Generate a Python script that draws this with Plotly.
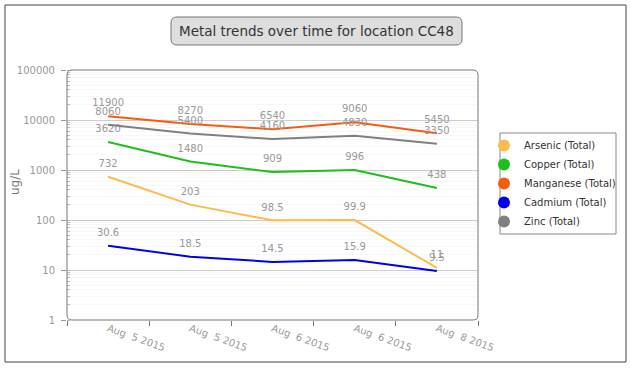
import plotly.graph_objects as go

categories = ["Aug  5 2015", "Aug  5 2015", "Aug  6 2015", "Aug  6 2015", "Aug  8 2015"]
series_names = ["Arsenic (Total)", "Copper (Total)", "Manganese (Total)", "Cadmium (Total)", "Zinc (Total)"]
arsenic = [732, 203, 98.5, 99.9, 11]
copper = [3620, 1480, 909, 996, 438]
manganese = [11900, 8270, 6540, 9060, 5450]
cadmium = [30.6, 18.5, 14.5, 15.9, 9.5]
zinc = [8060, 5400, 4160, 4830, 3350]
y_tick_vals = [1, 10, 100, 1000, 10000, 100000]
y_tick_text = ["1", "10", "100", "1000", "10000", "100000"]

colors = ["#FDBA4F", "#1DBF1D", "#F65B12", "#0000E6", "#808080"]
all_series = [arsenic, copper, manganese, cadmium, zinc]

W, H = 631, 368
L, R, T, B = 67, 478, 70, 320
FONT = "DejaVu Sans"

def px(x):
    return (x - L) / (R - L)

def py(y):
    return (B - y) / (B - T)

def rrect(x0, y0, x1, y1, r):
    rx = r / (R - L)
    ry = r / (B - T)
    X0, X1 = px(x0), px(x1)
    Y0, Y1 = py(y0), py(y1)
    return (f"M{X0+rx},{Y0} L{X1-rx},{Y0} Q{X1},{Y0} {X1},{Y0-ry} "
            f"L{X1},{Y1+ry} Q{X1},{Y1} {X1-rx},{Y1} "
            f"L{X0+rx},{Y1} Q{X0},{Y1} {X0},{Y1+ry} "
            f"L{X0},{Y0-ry} Q{X0},{Y0} {X0+rx},{Y0} Z")

xs = list(range(len(categories)))

fig = go.Figure()
for name, vals, c in zip(series_names, all_series, colors):
    fig.add_trace(go.Scatter(
        x=xs, y=vals, name=name, mode="lines+markers+text",
        line=dict(color=c, width=2),
        marker=dict(size=10, color="rgba(0,0,0,0)"),
        text=[f"{v:g}" for v in vals],
        textposition="top center",
        textfont=dict(family=FONT, size=10, color="#999999"),
        hoverinfo="skip", showlegend=False,
    ))
for name, c in zip(series_names, colors):
    fig.add_trace(go.Scatter(x=[None], y=[None], name=name, mode="markers",
                             marker=dict(color=c, size=8), showlegend=True))

shapes = [
    dict(type="rect", xref="paper", yref="paper",
         x0=px(5), x1=px(626), y0=py(5), y1=py(362),
         line=dict(color="#444444", width=1), fillcolor="rgba(0,0,0,0)", layer="below"),
    dict(type="path", xref="paper", yref="paper", path=rrect(L, T, R, B, 5),
         line=dict(color="#777777", width=1), layer="above"),
    dict(type="path", xref="paper", yref="paper", path=rrect(171, 17, 462, 45, 6),
         line=dict(color="#777777", width=1), fillcolor="#DEDEDE", layer="below"),
    dict(type="rect", xref="paper", yref="paper",
         x0=px(500), x1=px(616), y0=py(133), y1=py(234),
         line=dict(color="#888888", width=1), fillcolor="white", layer="below"),
]

fig.update_layout(
    width=W, height=H,
    margin=dict(l=L, r=W - R, t=T, b=H - B, autoexpand=False),
    paper_bgcolor="white", plot_bgcolor="white",
    font=dict(family=FONT, color="#333333"),
    shapes=shapes,
    annotations=[
        dict(text="Metal trends over time for location CC48", xref="paper", yref="paper",
             x=px(316.5), y=py(31), xanchor="center", yanchor="middle", showarrow=False,
             font=dict(family=FONT, size=13.5, color="#333333")),
        dict(text="ug/L", xref="paper", yref="paper", x=px(15), y=py(182), textangle=-90,
             xanchor="center", yanchor="middle", showarrow=False,
             font=dict(family=FONT, size=12, color="#777777")),
    ],
    showlegend=True,
    legend=dict(x=px(484), y=py(131), xanchor="left", yanchor="top",
                bgcolor="rgba(0,0,0,0)", borderwidth=0,
                font=dict(family=FONT, size=10, color="#333333"),
                itemsizing="constant", itemwidth=30, tracegroupgap=0),
    xaxis=dict(range=[-0.5, 4.5], tickmode="array", tickvals=xs, ticktext=categories,
               tickangle=20, ticks="", showgrid=False, zeroline=False, automargin=False,
               showline=False, tickfont=dict(family=FONT, size=10, color="#999999"),
               minor=dict(tickmode="array", tickvals=[-0.5, 0.5, 1.5, 2.5, 3.5, 4.5],
                          ticks="outside", ticklen=5, tickcolor="#777777", showgrid=False)),
    yaxis=dict(type="log", range=[0, 5], tickmode="array", tickvals=y_tick_vals,
               ticktext=y_tick_text, ticks="outside", ticklen=5, tickcolor="#999999",
               ticklabelstandoff=4,
               showgrid=True, gridcolor="#CCCCCC", gridwidth=1, zeroline=False, showline=False,
               automargin=False,
               tickfont=dict(family=FONT, size=10, color="#999999"),
               minor=dict(ticks="inside", ticklen=3, tickcolor="#BBBBBB", showgrid=True,
                          gridcolor="#F7F7F7", dtick="D1")),
)

fig.write_html("out.html", config={"displayModeBar": False},
               post_script="document.body.style.margin='0';")
